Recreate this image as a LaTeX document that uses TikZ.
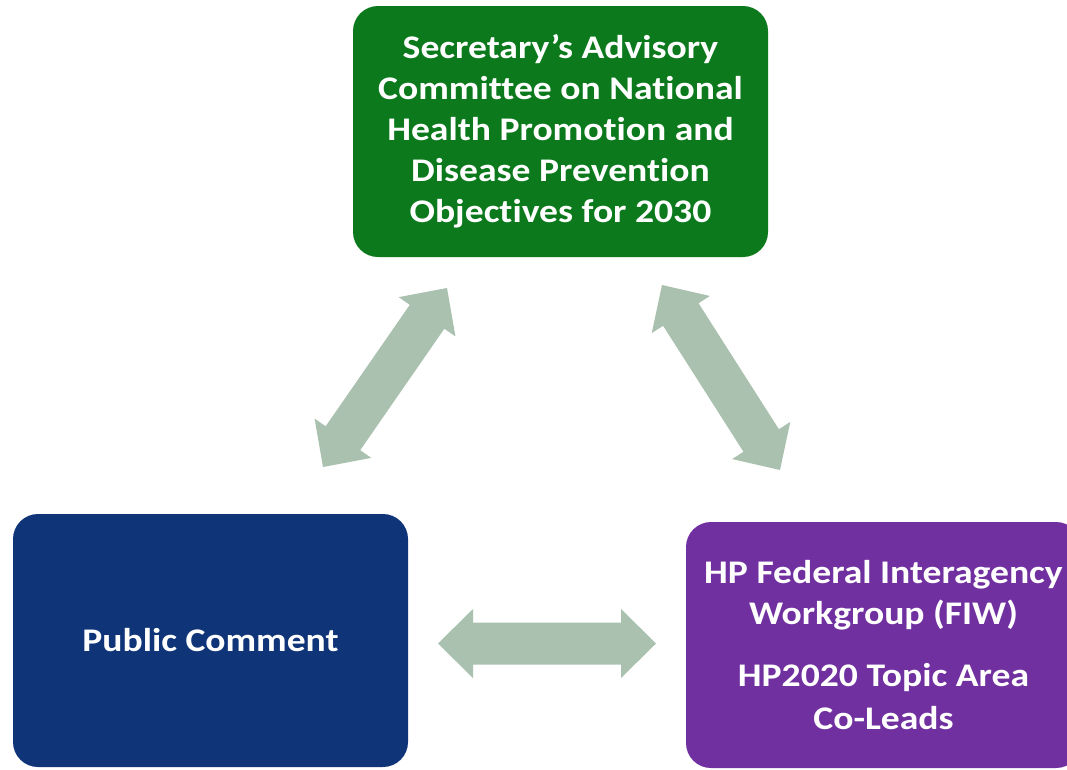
\documentclass[tikz,border=0pt]{standalone}
\usepackage{fontspec}
\setmainfont{Carlito}[FakeStretch=1.14, Ligatures=NoCommon]
\usetikzlibrary{calc}
\definecolor{boxgreen}{RGB}{12,122,28}
\definecolor{boxblue}{RGB}{15,52,120}
\definecolor{boxpurple}{RGB}{112,48,160}
\definecolor{arrowfill}{RGB}{169,193,174}
\newcommand\blkarrow[2]{%
  \fill[arrowfill] (#1)
    -- ($(#1)!35pt!(#2)!34.5pt!90:(#2)$)
    -- ($(#1)!35pt!(#2)!21pt!90:(#2)$)
    -- ($(#2)!35pt!(#1)!21pt!-90:(#1)$)
    -- ($(#2)!35pt!(#1)!34.5pt!-90:(#1)$)
    -- (#2)
    -- ($(#2)!35pt!(#1)!34.5pt!90:(#1)$)
    -- ($(#2)!35pt!(#1)!21pt!90:(#1)$)
    -- ($(#1)!35pt!(#2)!21pt!-90:(#2)$)
    -- ($(#1)!35pt!(#2)!34.5pt!-90:(#2)$)
    -- cycle;}
\tikzset{
  panel/.style={rectangle, rounded corners=25pt, inner sep=0pt,
    text=white, align=center,
    font=\fontsize{33}{41}\selectfont\bfseries}
}
\begin{document}
\begin{tikzpicture}[x=1pt,y=-1pt]
\clip (0,0) rectangle (1067,769);
\fill[white] (0,0) rectangle (1067,769);
\node[panel, fill=boxgreen, minimum width=415pt, minimum height=251pt] (sac) at (560.5,131.5)
  {Secretary’s Advisory\\Committee on National\\Health Promotion and\\Disease Prevention\\Objectives for 2030};
\node[panel, fill=boxblue, minimum width=395pt, minimum height=253pt] (pc) at (210.5,640.5)
  {Public Comment};
\node[panel, fill=boxpurple, minimum width=395pt, minimum height=246pt] (fiw) at (883.5,645)
  {HP Federal Interagency\\Workgroup (FIW)\\[21pt]HP2020 Topic Area\\[2pt]Co-Leads};
% arrow end points
\coordinate (l1) at (323,467);
\coordinate (l2) at (447,288);
\coordinate (r1) at (662,285);
\coordinate (r2) at (780,470);
\coordinate (h1) at (438,643.5);
\coordinate (h2) at (656,643.5);
\blkarrow{l1}{l2}
\blkarrow{r1}{r2}
\blkarrow{h1}{h2}
\end{tikzpicture}
\end{document}
